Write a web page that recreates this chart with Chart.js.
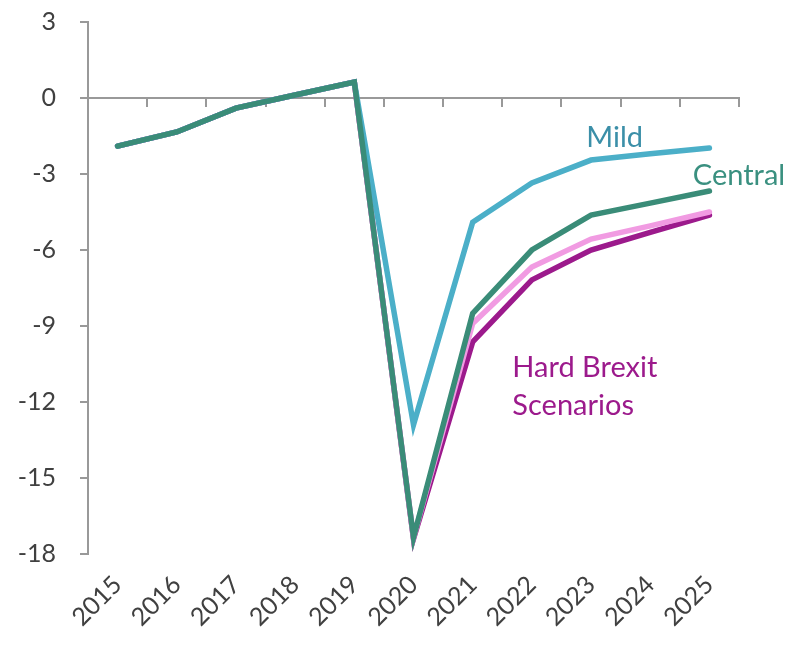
<!DOCTYPE html>
<html lang="en">
<head>
<meta charset="UTF-8">
<title>Hard Brexit Scenarios</title>
<style>
  body { margin: 0; background: #fff; }
  #wrap { width: 786px; height: 645px; }
</style>
<script src="https://cdn.jsdelivr.net/npm/chart.js"></script>
</head>
<body>
<div id="wrap"><canvas id="chart" width="786" height="645"></canvas></div>
<script>
// data
var years = ['2015', '2016', '2017', '2018', '2019', '2020', '2021', '2022', '2023', '2024', '2025'];
var central = [-1.9, -1.34, -0.4, 0.12, 0.63, -17.35, -8.5, -6.0, -4.62, -4.15, -3.67];
var mild = [-1.9, -1.34, -0.4, 0.12, 0.63, -12.9, -4.9, -3.35, -2.45, -2.2, -1.97];
var hardLight = [-1.9, -1.34, -0.4, 0.12, 0.63, -17.35, -8.9, -6.67, -5.57, -5.05, -4.5];
var hardDark = [-1.9, -1.34, -0.4, 0.12, 0.63, -17.4, -9.63, -7.18, -6.0, -5.3, -4.62];
var yTicks = [3, 0, -3, -6, -9, -12, -15, -18];

var FONT = 'Lato, "Open Sans", sans-serif';
var AXIS = '#999999';

// text labels placed next to the lines (category index, value)
var notes = [
  { text: ['Mild'], x: 8.4, y: -1.58, color: '#3b8fa8', align: 'center' },
  { text: ['Central'], x: 10.5, y: -3.08, color: '#3a9080', align: 'center' },
  { text: ['Hard Brexit', 'Scenarios'], x: 6.67, y: -10.66, color: '#9c1a8c', align: 'left' }
];

var notePlugin = {
  id: 'notes',
  afterDatasetsDraw: function(chart) {
    var ctx = chart.ctx;
    var xs = chart.scales.x, ys = chart.scales.y;
    ctx.save();
    ctx.font = '29px ' + FONT;
    ctx.textBaseline = 'middle';
    notes.forEach(function(n) {
      ctx.fillStyle = n.color;
      ctx.textAlign = n.align;
      var px = xs.getPixelForValue(n.x);
      var py = ys.getPixelForValue(n.y);
      n.text.forEach(function(t, i) {
        ctx.fillText(t, px, py + i * 38);
      });
    });
    ctx.restore();
  }
};

function line(label, data, color, order) {
  return {
    label: label,
    data: data,
    borderColor: color,
    backgroundColor: color,
    borderWidth: 5.5,
    borderCapStyle: 'round',
    pointRadius: 0,
    tension: 0,
    order: order
  };
}

new Chart(document.getElementById('chart'), {
  type: 'line',
  data: {
    labels: years,
    datasets: [
      line('Central', central, '#3a8c78', 0),
      line('Mild', mild, '#4bafc8', 1),
      line('Hard light', hardLight, '#f19be2', 2),
      line('Hard', hardDark, '#9c1a8c', 3)
    ]
  },
  options: {
    responsive: false,
    animation: false,
    layout: { padding: { top: 22, right: 47, left: 0, bottom: 0 } },
    plugins: { legend: { display: false }, tooltip: { enabled: false } },
    scales: {
      x: {
        offset: true,
        grid: { display: false },
        border: { display: false },
        ticks: {
          color: '#404040',
          font: { family: FONT, size: 25 },
          maxRotation: 45,
          minRotation: 45,
          autoSkip: false,
          padding: 8
        },
        afterFit: function(s) { s.height = 91; }
      },
      x2: {
        type: 'category',
        labels: years,
        position: { y: 0 },
        offset: true,
        grid: { offset: true, drawOnChartArea: false, tickLength: 8, color: AXIS, lineWidth: 2 },
        border: { color: AXIS, width: 2 },
        ticks: { display: false }
      },
      y: {
        min: -18,
        max: 3,
        afterBuildTicks: function(s) {
          s.ticks = yTicks.map(function(v) { return { value: v }; });
        },
        grid: { drawOnChartArea: false, tickLength: 8, color: AXIS, lineWidth: 2 },
        border: { color: AXIS, width: 2 },
        ticks: {
          color: '#404040',
          font: { family: FONT, size: 25 },
          padding: 24
        },
        afterFit: function(s) {
          s.width = 88;
          s.paddingTop = 0;
          s.paddingBottom = 0;
        }
      }
    }
  },
  plugins: [notePlugin]
});
</script>
</body>
</html>
